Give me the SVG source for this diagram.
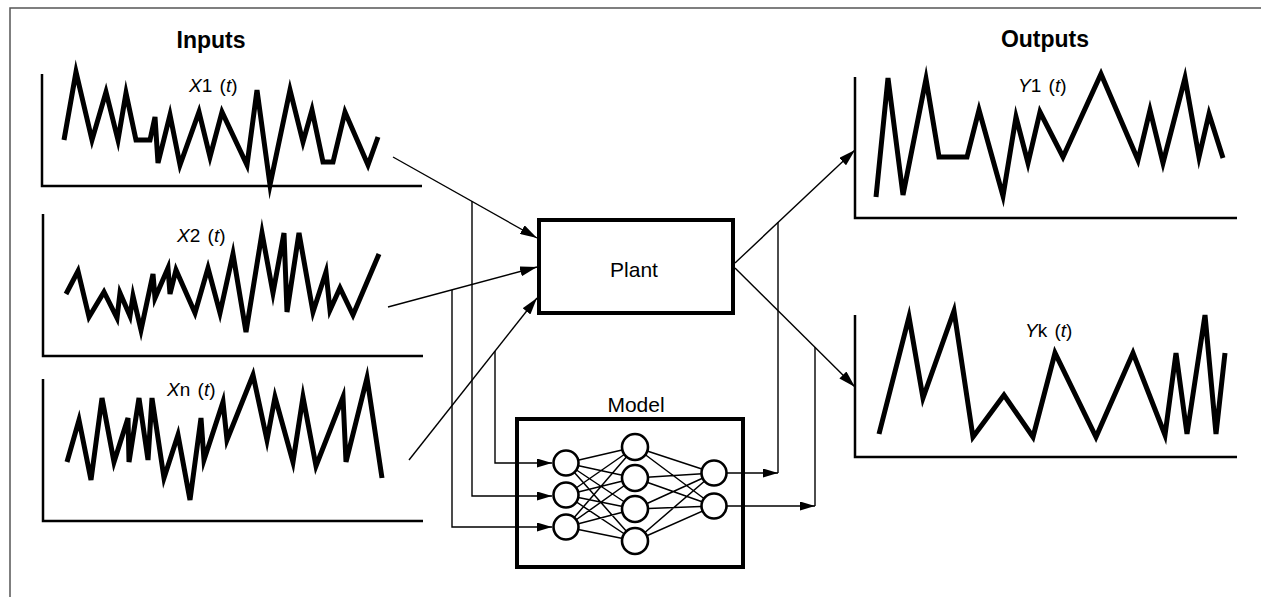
<svg xmlns="http://www.w3.org/2000/svg" width="1261" height="597" viewBox="0 0 1261 597">
<style>
.frame{fill:none;stroke:#555;stroke-width:1.5}
.axis{fill:none;stroke:#000;stroke-width:2.5}
.wave{fill:none;stroke:#000;stroke-width:5;stroke-linejoin:miter;stroke-miterlimit:6}
.box{fill:none;stroke:#000;stroke-width:4}
.conn{fill:none;stroke:#000;stroke-width:1.4}
.nn{fill:none;stroke:#000;stroke-width:1.5}
.node{fill:#fff;stroke:#000;stroke-width:2.6}
.title{font-family:"Liberation Sans",Arial,sans-serif;font-weight:bold;font-size:23px;text-anchor:middle}
.lbl{font-family:"Liberation Sans",Arial,sans-serif;font-size:19px;word-spacing:2px}
.big{font-family:"Liberation Sans",Arial,sans-serif;font-size:21px;text-anchor:middle}
.it{font-style:italic}
</style>
<defs>
<marker id="ah" markerUnits="userSpaceOnUse" markerWidth="18" markerHeight="10" refX="17" refY="5" orient="auto">
<path d="M0,0 L17,5 L0,10 z" fill="#000"/>
</marker>
<marker id="as" markerUnits="userSpaceOnUse" markerWidth="16" markerHeight="9" refX="15" refY="4.5" orient="auto">
<path d="M0,0 L15,4.5 L0,9 z" fill="#000"/>
</marker>
</defs>
<rect width="1261" height="597" fill="#fff"/>
<path class="frame" d="M10,597 L10,8 L1261,8"/>

<text class="title" x="211" y="48">Inputs</text>
<text class="title" x="1045" y="47">Outputs</text>

<g id="x1">
<path class="axis" d="M42,74 L42,186 L422,186"/>
<polyline class="wave" points="64,140 76,72 92,140 106,92 118,140 126,93 136,140 150,140 155,117 158,163 170,115 180,165 199,112 210,157 222,112 247,165 257,90 270,185 290,90 303,142 312,110 323,162 333,162 345,112 368,165 378,137"/>
<text class="lbl" x="189" y="92"><tspan class="it">X</tspan>1 (<tspan class="it">t</tspan>)</text>
</g>

<g id="x2">
<path class="axis" d="M43,214 L43,356 L423,356"/>
<polyline class="wave" points="66,294 78,271 89,317 104,292 117,318 120,293 130,316 133,296 141,330 153,274 155,298 168,268 170,294 176,270 195,313 208,268 220,313 233,254 246,332 262,233 273,293 284,233 287,312 299,233 313,312 326,272 330,310 340,288 353,315 379,254"/>
<text class="lbl" x="177" y="242"><tspan class="it">X</tspan>2 (<tspan class="it">t</tspan>)</text>
</g>

<g id="xn">
<path class="axis" d="M43,379 L43,521 L423,521"/>
<polyline class="wave" points="67,462 79,420 91,480 102,398 114,462 128,418 129,462 139,398 148,460 152,398 164,478 178,435 190,500 201,418 204,460 223,402 227,440 253,375 267,440 275,397 293,462 303,397 316,466 343,397 346,462 367,378 382,478"/>
<text class="lbl" x="167" y="396"><tspan class="it">X</tspan>n (<tspan class="it">t</tspan>)</text>
</g>

<g id="y1">
<path class="axis" d="M855,77 L855,218 L1237,218"/>
<polyline class="wave" points="876,197 888,78 903,195 926,79 939,157 967,157 979,110 1003,196 1016,117 1028,163 1040,112 1063,157 1101,74 1138,160 1150,110 1163,163 1185,78 1199,157 1209,114 1223,158"/>
<text class="lbl" x="1018" y="92"><tspan class="it">Y</tspan>1 (<tspan class="it">t</tspan>)</text>
</g>

<g id="yk">
<path class="axis" d="M855,315 L855,457 L1237,457"/>
<polyline class="wave" points="879,434 909,317 923,398 954,311 973,437 1004,395 1033,437 1055,353 1096,437 1133,353 1165,435 1176,353 1187,434 1205,315 1216,434 1225,353"/>
<text class="lbl" x="1025" y="337"><tspan class="it">Y</tspan>k (<tspan class="it">t</tspan>)</text>
</g>

<g id="connectors">
<line class="conn" x1="393" y1="157" x2="537" y2="238" marker-end="url(#ah)"/>
<line class="conn" x1="388" y1="307" x2="537" y2="267" marker-end="url(#ah)"/>
<line class="conn" x1="409" y1="460" x2="537" y2="298" marker-end="url(#ah)"/>
<line class="conn" x1="735" y1="263" x2="855" y2="150" marker-end="url(#ah)"/>
<line class="conn" x1="735" y1="268" x2="855" y2="387" marker-end="url(#ah)"/>
<path class="conn" d="M495,351 L495,463 L552,463" marker-end="url(#as)"/>
<path class="conn" d="M472,201 L472,496 L552,496" marker-end="url(#as)"/>
<path class="conn" d="M452,290 L452,527 L552,527" marker-end="url(#as)"/>
<path class="conn" d="M778,222 L778,473"/>
<path class="conn" d="M815,347 L815,506"/>
<line class="conn" x1="727" y1="473" x2="778" y2="473" marker-end="url(#as)"/>
<line class="conn" x1="727" y1="506" x2="815" y2="506" marker-end="url(#as)"/>
</g>

<g id="plant">
<rect class="box" x="539" y="220" width="194" height="93"/>
<text class="big" x="634" y="277">Plant</text>
</g>

<g id="model">
<text class="big" x="636" y="412">Model</text>
<rect class="box" x="517" y="419" width="226" height="148"/>
<g class="nn">
<path d="M566,463 L635,447 M566,463 L635,478 M566,463 L635,509 M566,463 L635,541
M566,495 L635,447 M566,495 L635,478 M566,495 L635,509 M566,495 L635,541
M566,527 L635,447 M566,527 L635,478 M566,527 L635,509 M566,527 L635,541
M635,447 L714,473 M635,447 L714,506 M635,478 L714,473 M635,478 L714,506
M635,509 L714,473 M635,509 L714,506 M635,541 L714,473 M635,541 L714,506"/>
</g>
<circle class="node" cx="566" cy="463" r="12.5"/>
<circle class="node" cx="566" cy="495" r="12.5"/>
<circle class="node" cx="566" cy="527" r="12.5"/>
<circle class="node" cx="635" cy="447" r="13"/>
<circle class="node" cx="635" cy="478" r="13"/>
<circle class="node" cx="635" cy="509" r="13"/>
<circle class="node" cx="635" cy="541" r="13"/>
<circle class="node" cx="714" cy="473" r="12.5"/>
<circle class="node" cx="714" cy="506" r="12.5"/>
</g>
</svg>
